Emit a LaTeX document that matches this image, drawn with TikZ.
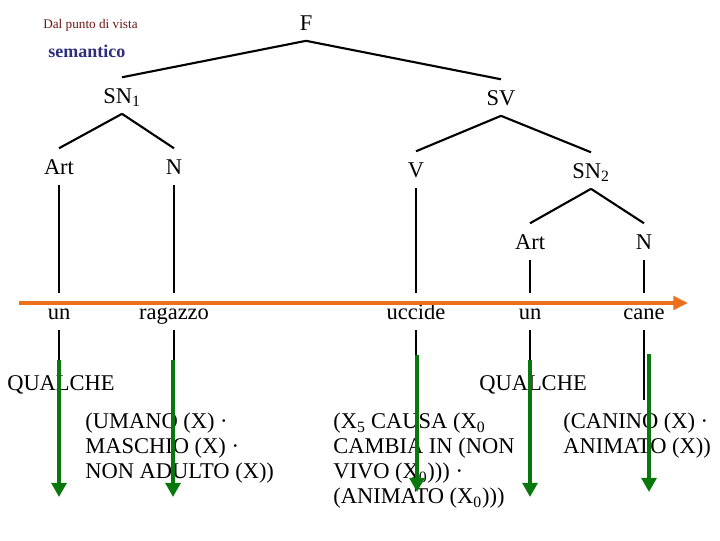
\documentclass[tikz,border=0pt]{standalone}
\usepackage{fontspec}
\setmainfont{Liberation Serif}
\usetikzlibrary{arrows.meta}
\definecolor{arancio}{RGB}{236,112,28}
\definecolor{verde}{RGB}{8,120,12}
\definecolor{rossoscuro}{RGB}{110,22,22}
\definecolor{bluscuro}{RGB}{46,46,124}
\begin{document}
\begin{tikzpicture}[x=0.025cm, y=-0.025cm,
  cat/.style={font=\fontsize{16}{18}\selectfont, inner xsep=0pt, inner ysep=7.5pt,
              text height=10.6pt, text depth=0pt, anchor=base},
  sema/.style={font=\fontsize{16}{17.8}\selectfont, inner sep=0pt, align=left, anchor=north west},
  ramo/.style={line width=1.5pt},
  freccia/.style={line width=3.5pt, verde, -{Triangle[width=10.5pt,length=10pt]}}]
  % sfondo e margini
  \useasboundingbox[fill=white] (0,0) rectangle (720,540);

  % titolo
  \node[anchor=base west, inner sep=0pt, text=rossoscuro, font=\fontsize{9.4}{11}\selectfont] (tit1) at (43,28) {Dal punto di vista};
  \node[anchor=base west, inner sep=0pt, text=bluscuro, font=\bfseries\fontsize{12.8}{15}\selectfont] (tit2) at (48,57) {semantico};

  % albero
  \node[cat] (F)    at (306,30)  {F};
  \node[cat] (SN1)  at (122,103) {SN\textsubscript{1}};
  \node[cat] (SV)   at (501,105) {SV};
  \node[cat] (Art1) at (59,174)  {Art};
  \node[cat] (N1)   at (174,174) {N};
  \node[cat] (V)    at (416,177) {V};
  \node[cat] (SN2)  at (591,178) {SN\textsubscript{2}};
  \node[cat] (Art2) at (530,249) {Art};
  \node[cat] (N2)   at (644,249) {N};

  \draw[ramo] (F.south) -- (SN1.north);
  \draw[ramo] (F.south) -- (SV.north);
  \draw[ramo] (SN1.south) -- (Art1.north);
  \draw[ramo] (SN1.south) -- (N1.north);
  \draw[ramo] (SV.south) -- (V.north);
  \draw[ramo] (SV.south) -- (SN2.north);
  \draw[ramo] (SN2.south) -- (Art2.north);
  \draw[ramo] (SN2.south) -- (N2.north);

  % parole della frase
  \node[cat] (w1) at (59,319)  {un};
  \node[cat] (w2) at (174,319) {ragazzo};
  \node[cat] (w3) at (416,319) {uccide};
  \node[cat] (w4) at (530,319) {un};
  \node[cat] (w5) at (644,319) {cane};

  \draw[ramo] (Art1.south) -- (w1.north);
  \draw[ramo] (N1.south) -- (w2.north);
  \draw[ramo] (V.south) -- (w3.north);
  \draw[ramo] (Art2.south) -- (w4.north);
  \draw[ramo] (N2.south) -- (w5.north);

  % asse della frase (arancione)
  \coordinate (a0) at (19,303);
  \coordinate (a1) at (688,303);
  \draw[line width=3.5pt, arancio, -{Triangle[width=9.5pt,length=10.5pt]}] (a0) -- (a1);

  % tratti sotto le parole
  \foreach \i/\y in {1/360, 2/360, 3/355, 4/360, 5/400} {
    \coordinate (b\i) at (w\i.south |- 0,\y);
    \draw[ramo] (w\i.south) -- (b\i);
  }

  % rappresentazione semantica
  \node[cat, anchor=base] (Q1) at (61,390)  {QUALCHE};
  \node[cat, anchor=base] (Q2) at (533,390) {QUALCHE};
  \node[sema] (S1) at (85,412.6)  {(UMANO (X) ·\\MASCHIO (X) ·\\NON ADULTO (X))};
  \node[sema] (S2) at (333,412.6) {(X\textsubscript{5} CAUSA (X\textsubscript{0}\\CAMBIA IN (NON\\VIVO (X\textsubscript{0}))) ·\\(ANIMATO (X\textsubscript{0})))};
  \node[sema] (S3) at (563,412.6) {(CANINO (X) ·\\ANIMATO (X))};

  % frecce verdi
  \foreach \i/\x/\ya/\yb in {1/59/360/497, 2/173/360/497, 3/417/355/492, 4/530/360/497, 5/649/354/492} {
    \coordinate (g\i) at (\x,\ya);
    \coordinate (h\i) at (\x,\yb);
    \draw[freccia] (g\i) -- (h\i);
  }

\end{tikzpicture}
\end{document}
